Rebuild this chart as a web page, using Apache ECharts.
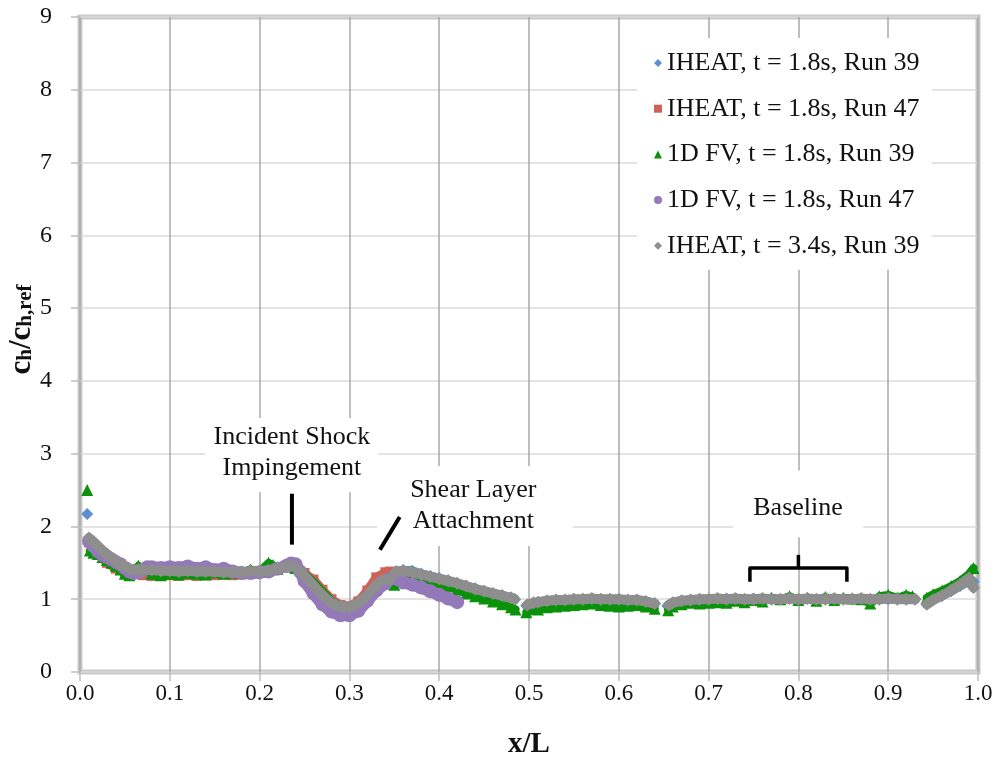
<!DOCTYPE html>
<html>
<head>
<meta charset="utf-8">
<script src="https://cdn.jsdelivr.net/npm/echarts@6/dist/echarts.min.js"></script>
<style>
  html, body { margin: 0; padding: 0; background: #fff; }
  #chart { width: 1000px; height: 762px; }
</style>
</head>
<body>
<div id="chart"></div>
<script>
// Axis ranges and tick labels
const xTicks = ['0.0', '0.1', '0.2', '0.3', '0.4', '0.5', '0.6', '0.7', '0.8', '0.9', '1.0'];
const yTicks = ['0', '1', '2', '3', '4', '5', '6', '7', '8', '9'];

// Series names (legend order)
const seriesNames = [
  'IHEAT, t = 1.8s, Run 39',
  'IHEAT, t = 1.8s, Run 47',
  '1D FV, t = 1.8s, Run 39',
  '1D FV, t = 1.8s, Run 47',
  'IHEAT, t = 3.4s, Run 39'
];

// [x/L, ch/ch,ref]; '-' marks a break in the trace
const iheat18Run39 = [
  [0.008, 2.17], [0.009, '-'], [0.01, 1.78], [0.02, 1.70], [0.03, 1.60], [0.04, 1.51], [0.05, 1.45],
  [0.06, 1.41], [0.07, 1.40], [0.08, 1.40], [0.09, 1.39], [0.10, 1.39], [0.11, 1.39], [0.12, 1.39],
  [0.13, 1.39], [0.14, 1.39], [0.15, 1.38], [0.16, 1.38], [0.17, 1.39], [0.18, 1.38], [0.19, 1.38],
  [0.20, 1.39], [0.21, 1.40], [0.22, 1.43], [0.23, 1.45], [0.24, 1.44], [0.25, 1.33], [0.26, 1.20],
  [0.27, 1.07], [0.28, 0.96], [0.29, 0.91], [0.30, 0.90], [0.31, 0.96], [0.32, 1.08], [0.33, 1.25],
  [0.34, 1.33], [0.35, 1.36], [0.36, 1.40], [0.37, 1.39], [0.38, 1.35], [0.39, 1.32], [0.40, 1.29],
  [0.41, 1.26], [0.42, 1.22], [0.43, 1.18], [0.44, 1.15], [0.45, 1.11], [0.46, 1.08], [0.47, 1.05],
  [0.48, 1.02], [0.484, 0.99], [0.49, '-'], [0.497, 0.91], [0.51, 0.96], [0.52, 0.98], [0.53, 0.99],
  [0.54, 0.99], [0.55, 1.00], [0.56, 1.00], [0.57, 1.01], [0.58, 1.00], [0.59, 1.00], [0.60, 1.00],
  [0.61, 0.99], [0.62, 0.99], [0.63, 0.97], [0.64, 0.94], [0.648, '-'], [0.654, 0.91], [0.66, 0.95],
  [0.67, 0.98], [0.68, 0.99], [0.69, 1.00], [0.70, 1.00], [0.71, 1.00], [0.72, 1.01], [0.73, 1.00],
  [0.74, 1.00], [0.75, 1.01], [0.76, 1.00], [0.77, 1.01], [0.78, 1.00], [0.79, 1.01], [0.80, 1.00],
  [0.81, 1.01], [0.82, 1.00], [0.83, 1.01], [0.84, 1.00], [0.85, 1.01], [0.86, 1.01], [0.87, 1.00],
  [0.88, 1.00], [0.89, 1.01], [0.90, 1.00], [0.91, 1.01], [0.92, 1.00], [0.93, 1.00], [0.936, '-'],
  [0.943, 0.94], [0.95, 0.99], [0.96, 1.05], [0.97, 1.11], [0.98, 1.18], [0.99, 1.25], [0.995, 1.24]
];

const iheat18Run47 = [
  [0.01, 1.78], [0.02, 1.62], [0.03, 1.50], [0.04, 1.42], [0.05, 1.37], [0.06, 1.35], [0.07, 1.33],
  [0.08, 1.32], [0.09, 1.32], [0.10, 1.33], [0.11, 1.32], [0.12, 1.33], [0.13, 1.32], [0.14, 1.33],
  [0.15, 1.33], [0.16, 1.34], [0.17, 1.33], [0.18, 1.34], [0.19, 1.35], [0.20, 1.36], [0.21, 1.38],
  [0.22, 1.41], [0.23, 1.44], [0.24, 1.43], [0.25, 1.36], [0.26, 1.27], [0.27, 1.13], [0.28, 1.00],
  [0.29, 0.92], [0.30, 0.90], [0.31, 0.97], [0.32, 1.12], [0.33, 1.30], [0.34, 1.37], [0.345, 1.38],
  [0.35, 1.36], [0.355, 1.30], [0.36, 1.30], [0.37, 1.30], [0.38, 1.27], [0.39, 1.24], [0.40, 1.21],
  [0.41, 1.18], [0.42, 1.15]
];

const fv18Run39 = [
  [0.008, 2.50], [0.009, '-'], [0.011, 1.67], [0.015, 1.64], [0.02, 1.62], [0.025, 1.58], [0.03, 1.54],
  [0.035, 1.50], [0.04, 1.46], [0.045, 1.41], [0.05, 1.35], [0.055, 1.33], [0.06, 1.36], [0.065, 1.46],
  [0.07, 1.40], [0.08, 1.35], [0.09, 1.33], [0.10, 1.35], [0.11, 1.34], [0.12, 1.36], [0.13, 1.35],
  [0.14, 1.34], [0.15, 1.37], [0.16, 1.35], [0.17, 1.36], [0.18, 1.37], [0.19, 1.41], [0.20, 1.38],
  [0.21, 1.50], [0.215, 1.47], [0.22, 1.42], [0.23, 1.45], [0.24, 1.43], [0.25, 1.35], [0.26, 1.24],
  [0.27, 1.11], [0.28, 0.98], [0.29, 0.91], [0.30, 0.89], [0.31, 0.93], [0.32, 1.05], [0.33, 1.18],
  [0.34, 1.22], [0.35, 1.20], [0.36, 1.24], [0.37, 1.30], [0.38, 1.28], [0.39, 1.25], [0.40, 1.22],
  [0.41, 1.18], [0.42, 1.13], [0.43, 1.08], [0.44, 1.04], [0.45, 1.01], [0.46, 0.97], [0.47, 0.93],
  [0.48, 0.89], [0.485, 0.86], [0.49, '-'], [0.497, 0.82], [0.51, 0.86], [0.52, 0.89], [0.53, 0.90],
  [0.54, 0.91], [0.55, 0.92], [0.56, 0.93], [0.57, 0.94], [0.58, 0.92], [0.59, 0.91], [0.60, 0.90],
  [0.61, 0.91], [0.62, 0.92], [0.63, 0.90], [0.64, 0.87], [0.648, '-'], [0.655, 0.85], [0.66, 0.90],
  [0.67, 0.93], [0.68, 0.95], [0.69, 0.94], [0.70, 0.95], [0.71, 0.96], [0.72, 0.95], [0.73, 0.98],
  [0.74, 0.96], [0.75, 0.99], [0.76, 0.97], [0.77, 1.02], [0.78, 1.00], [0.79, 1.04], [0.80, 0.99],
  [0.81, 1.02], [0.82, 0.98], [0.83, 1.03], [0.84, 0.99], [0.85, 1.02], [0.86, 1.01], [0.87, 1.00],
  [0.88, 0.94], [0.89, 1.04], [0.90, 1.06], [0.91, 1.02], [0.92, 1.06], [0.927, 1.04], [0.935, '-'],
  [0.943, 1.02], [0.95, 1.07], [0.96, 1.12], [0.97, 1.18], [0.98, 1.25], [0.99, 1.35], [0.995, 1.43]
];

const fv18Run47 = [
  [0.01, 1.80], [0.015, 1.73], [0.02, 1.66], [0.025, 1.61], [0.03, 1.58], [0.035, 1.55], [0.04, 1.51],
  [0.045, 1.48], [0.05, 1.43], [0.055, 1.38], [0.06, 1.36], [0.065, 1.37], [0.07, 1.40], [0.075, 1.44],
  [0.08, 1.44], [0.09, 1.43], [0.10, 1.44], [0.11, 1.43], [0.12, 1.45], [0.13, 1.42], [0.14, 1.44],
  [0.15, 1.40], [0.16, 1.42], [0.17, 1.38], [0.18, 1.36], [0.19, 1.36], [0.20, 1.37], [0.21, 1.38],
  [0.22, 1.42], [0.23, 1.46], [0.235, 1.49], [0.24, 1.48], [0.245, 1.38], [0.25, 1.25], [0.26, 1.08],
  [0.27, 0.93], [0.28, 0.83], [0.29, 0.78], [0.30, 0.78], [0.31, 0.84], [0.32, 0.98], [0.33, 1.12],
  [0.34, 1.22], [0.345, 1.28], [0.35, 1.30], [0.355, 1.27], [0.36, 1.23], [0.37, 1.20], [0.38, 1.16],
  [0.39, 1.11], [0.40, 1.06], [0.41, 1.01], [0.42, 0.96]
];

const iheat34Run39 = [
  [0.01, 1.84], [0.015, 1.79], [0.02, 1.73], [0.025, 1.67], [0.03, 1.62], [0.035, 1.57], [0.04, 1.52],
  [0.045, 1.48], [0.05, 1.45], [0.055, 1.42], [0.06, 1.40], [0.065, 1.41], [0.07, 1.40], [0.08, 1.40],
  [0.09, 1.39], [0.10, 1.39], [0.11, 1.38], [0.12, 1.39], [0.13, 1.38], [0.14, 1.38], [0.15, 1.38],
  [0.16, 1.37], [0.17, 1.37], [0.18, 1.37], [0.19, 1.38], [0.20, 1.38], [0.21, 1.39], [0.22, 1.42],
  [0.23, 1.45], [0.235, 1.46], [0.24, 1.44], [0.245, 1.39], [0.25, 1.32], [0.255, 1.26], [0.26, 1.19],
  [0.265, 1.12], [0.27, 1.06], [0.275, 1.00], [0.28, 0.95], [0.285, 0.92], [0.29, 0.90], [0.295, 0.89],
  [0.30, 0.89], [0.305, 0.91], [0.31, 0.95], [0.315, 1.00], [0.32, 1.06], [0.325, 1.12], [0.33, 1.20],
  [0.335, 1.25], [0.34, 1.27], [0.345, 1.27], [0.348, '-'], [0.352, 1.38], [0.36, 1.39], [0.37, 1.37],
  [0.38, 1.34], [0.39, 1.31], [0.40, 1.28], [0.41, 1.25], [0.42, 1.22], [0.43, 1.18], [0.44, 1.14],
  [0.45, 1.11], [0.46, 1.08], [0.47, 1.05], [0.48, 1.02], [0.484, 1.00], [0.49, '-'], [0.498, 0.92],
  [0.505, 0.95], [0.51, 0.96], [0.52, 0.98], [0.53, 0.99], [0.54, 0.99], [0.55, 1.00], [0.56, 1.00],
  [0.57, 1.01], [0.58, 1.00], [0.59, 1.00], [0.60, 1.00], [0.61, 0.99], [0.62, 0.99], [0.63, 0.97],
  [0.64, 0.94], [0.648, '-'], [0.656, 0.92], [0.66, 0.95], [0.67, 0.98], [0.68, 0.99], [0.69, 1.00],
  [0.70, 1.00], [0.71, 1.01], [0.72, 1.00], [0.73, 1.01], [0.74, 1.00], [0.75, 1.00], [0.76, 1.01],
  [0.77, 1.00], [0.78, 1.00], [0.79, 1.01], [0.80, 1.00], [0.81, 1.01], [0.82, 1.00], [0.83, 1.00],
  [0.84, 1.01], [0.85, 1.00], [0.86, 1.00], [0.87, 1.01], [0.88, 1.00], [0.89, 1.00], [0.90, 1.01],
  [0.91, 1.00], [0.92, 1.00], [0.93, 1.00], [0.936, '-'], [0.943, 0.93], [0.95, 0.99], [0.96, 1.05],
  [0.97, 1.12], [0.98, 1.20], [0.99, 1.29], [0.995, 1.16]
];

// Callout annotations, in data coordinates
const calloutTexts = ['Incident Shock\nImpingement', 'Shear Layer\nAttachment', 'Baseline'];
const calloutAnchors = [[0.236, 3.02], [0.438, 2.28], [0.7996, 2.25]];
const calloutBoxes = [[0.139, 3.49, 0.332, 2.47], [0.331, 2.83, 0.549, 1.73], [0.727, 2.77, 0.872, 1.85]];
const pointerLines = [[[0.236, 2.45], [0.236, 1.75]], [[0.334, 1.68], [0.356, 2.13]]];
const bracePath = [[0.746, 1.24], [0.746, 1.43], [0.854, 1.43], [0.854, 1.24]];
const braceStem = [[0.8, 1.43], [0.8, 1.61]];

const serif = '"Liberation Serif", "Times New Roman", serif';
const colors = ['#5b8fcf', '#cd6258', '#0a920a', '#9479b8', '#8e8e8e'];
const symbols = ['diamond', 'rect', 'triangle', 'circle', 'diamond'];
const symbolSizes = [12, 10, 12, 14, 13];
const bandWidths = [9, 9, 8, 12, 10];
const seriesData = [iheat18Run39, iheat18Run47, fv18Run39, fv18Run47, iheat34Run39];

const chart = echarts.init(document.getElementById('chart'), null, { renderer: 'canvas' });

const series = seriesNames.map((name, i) => ({
  type: 'line',
  name: name,
  data: seriesData[i],
  symbol: symbols[i],
  symbolSize: symbolSizes[i],
  showAllSymbol: true,
  connectNulls: false,
  itemStyle: { color: colors[i] },
  lineStyle: { color: colors[i], width: bandWidths[i], cap: 'round', join: 'round' },
  emphasis: { disabled: true },
  z: 2 + i
}));

chart.setOption({
  animation: false,
  backgroundColor: '#fff',
  grid: {
    left: 80, right: 22, top: 17, bottom: 90,
    outerBoundsMode: 'none',
    containLabel: false,
    show: true, borderColor: '#c8c8c8', borderWidth: 5, backgroundColor: 'transparent'
  },
  legend: {
    orient: 'vertical',
    left: 637, top: 38,
    backgroundColor: '#fff',
    padding: [11, 12, 10, 17],
    itemGap: 17.7,
    itemWidth: 8, itemHeight: 8,
    textStyle: { fontFamily: serif, fontSize: 26, color: '#111', lineHeight: 28 },
    data: seriesNames.map((n, i) => ({ name: n, icon: symbols[i], itemStyle: { color: colors[i] } })),
    selectedMode: false
  },
  xAxis: {
    type: 'value',
    min: 0, max: 1, interval: 0.1,
    name: 'x/L',
    nameLocation: 'middle',
    nameGap: 58,
    nameMoveOverlap: false,
    nameTextStyle: { fontFamily: serif, fontSize: 29, fontWeight: 'bold', color: '#111' },
    axisLine: { show: false },
    axisTick: { show: true, length: 9, lineStyle: { color: '#bdbdbd', width: 1.5 } },
    axisLabel: {
      fontFamily: serif, fontSize: 23, color: '#111', margin: 10,
      formatter: v => xTicks[Math.round(v * 10)]
    },
    splitLine: { show: true, lineStyle: { color: '#a8a8a8', width: 1.5 } }
  },
  yAxis: {
    type: 'value',
    min: 0, max: 9, interval: 1,
    name: '{m|c}{s|h}{m|/c}{s|h,ref}',
    nameLocation: 'middle',
    nameGap: 44,
    nameMoveOverlap: false,
    nameTextStyle: {
      padding: [0, 0, 0, 30],
      rich: {
        m: { fontFamily: serif, fontSize: 31, fontWeight: 'bold', color: '#111', lineHeight: 30, verticalAlign: 'top' },
        s: { fontFamily: serif, fontSize: 21, fontWeight: 'bold', color: '#111', lineHeight: 21, verticalAlign: 'bottom', padding: [15, 0, 0, 0] }
      }
    },
    axisLine: { show: false },
    axisTick: { show: true, length: 9, lineStyle: { color: '#bdbdbd', width: 1.5 } },
    axisLabel: {
      fontFamily: serif, fontSize: 24, color: '#111', margin: 28,
      formatter: v => yTicks[Math.round(v)]
    },
    splitLine: { show: true, lineStyle: { color: '#dadada', width: 1.5 } }
  },
  series: series
});

// Callouts: white label boxes, text, pointer strokes and the baseline brace
function px(p) { return chart.convertToPixel({ gridIndex: 0 }, p); }

const graphics = [];
calloutBoxes.forEach(b => {
  const a = px([b[0], b[1]]), c = px([b[2], b[3]]);
  graphics.push({
    type: 'rect', z: 50,
    shape: { x: a[0], y: a[1], width: c[0] - a[0], height: c[1] - a[1] },
    style: { fill: '#fff' }
  });
});
calloutTexts.forEach((t, i) => {
  const p = px(calloutAnchors[i]);
  graphics.push({
    type: 'text', z: 60, x: p[0], y: p[1],
    style: {
      text: t, font: '26px ' + serif, fill: '#111',
      align: 'center', verticalAlign: 'middle', lineHeight: 31
    }
  });
});
pointerLines.forEach(l => {
  const a = px(l[0]), b = px(l[1]);
  graphics.push({
    type: 'line', z: 60,
    shape: { x1: a[0], y1: a[1], x2: b[0], y2: b[1] },
    style: { stroke: '#000', lineWidth: 4 }
  });
});
graphics.push({
  type: 'polyline', z: 60,
  shape: { points: bracePath.map(px) },
  style: { stroke: '#000', lineWidth: 3.5, fill: null, lineJoin: 'round' }
});
{
  const a = px(braceStem[0]), b = px(braceStem[1]);
  graphics.push({
    type: 'line', z: 60,
    shape: { x1: a[0], y1: a[1], x2: b[0], y2: b[1] },
    style: { stroke: '#000', lineWidth: 3.5 }
  });
}
chart.setOption({ graphic: graphics });
</script>
</body>
</html>
